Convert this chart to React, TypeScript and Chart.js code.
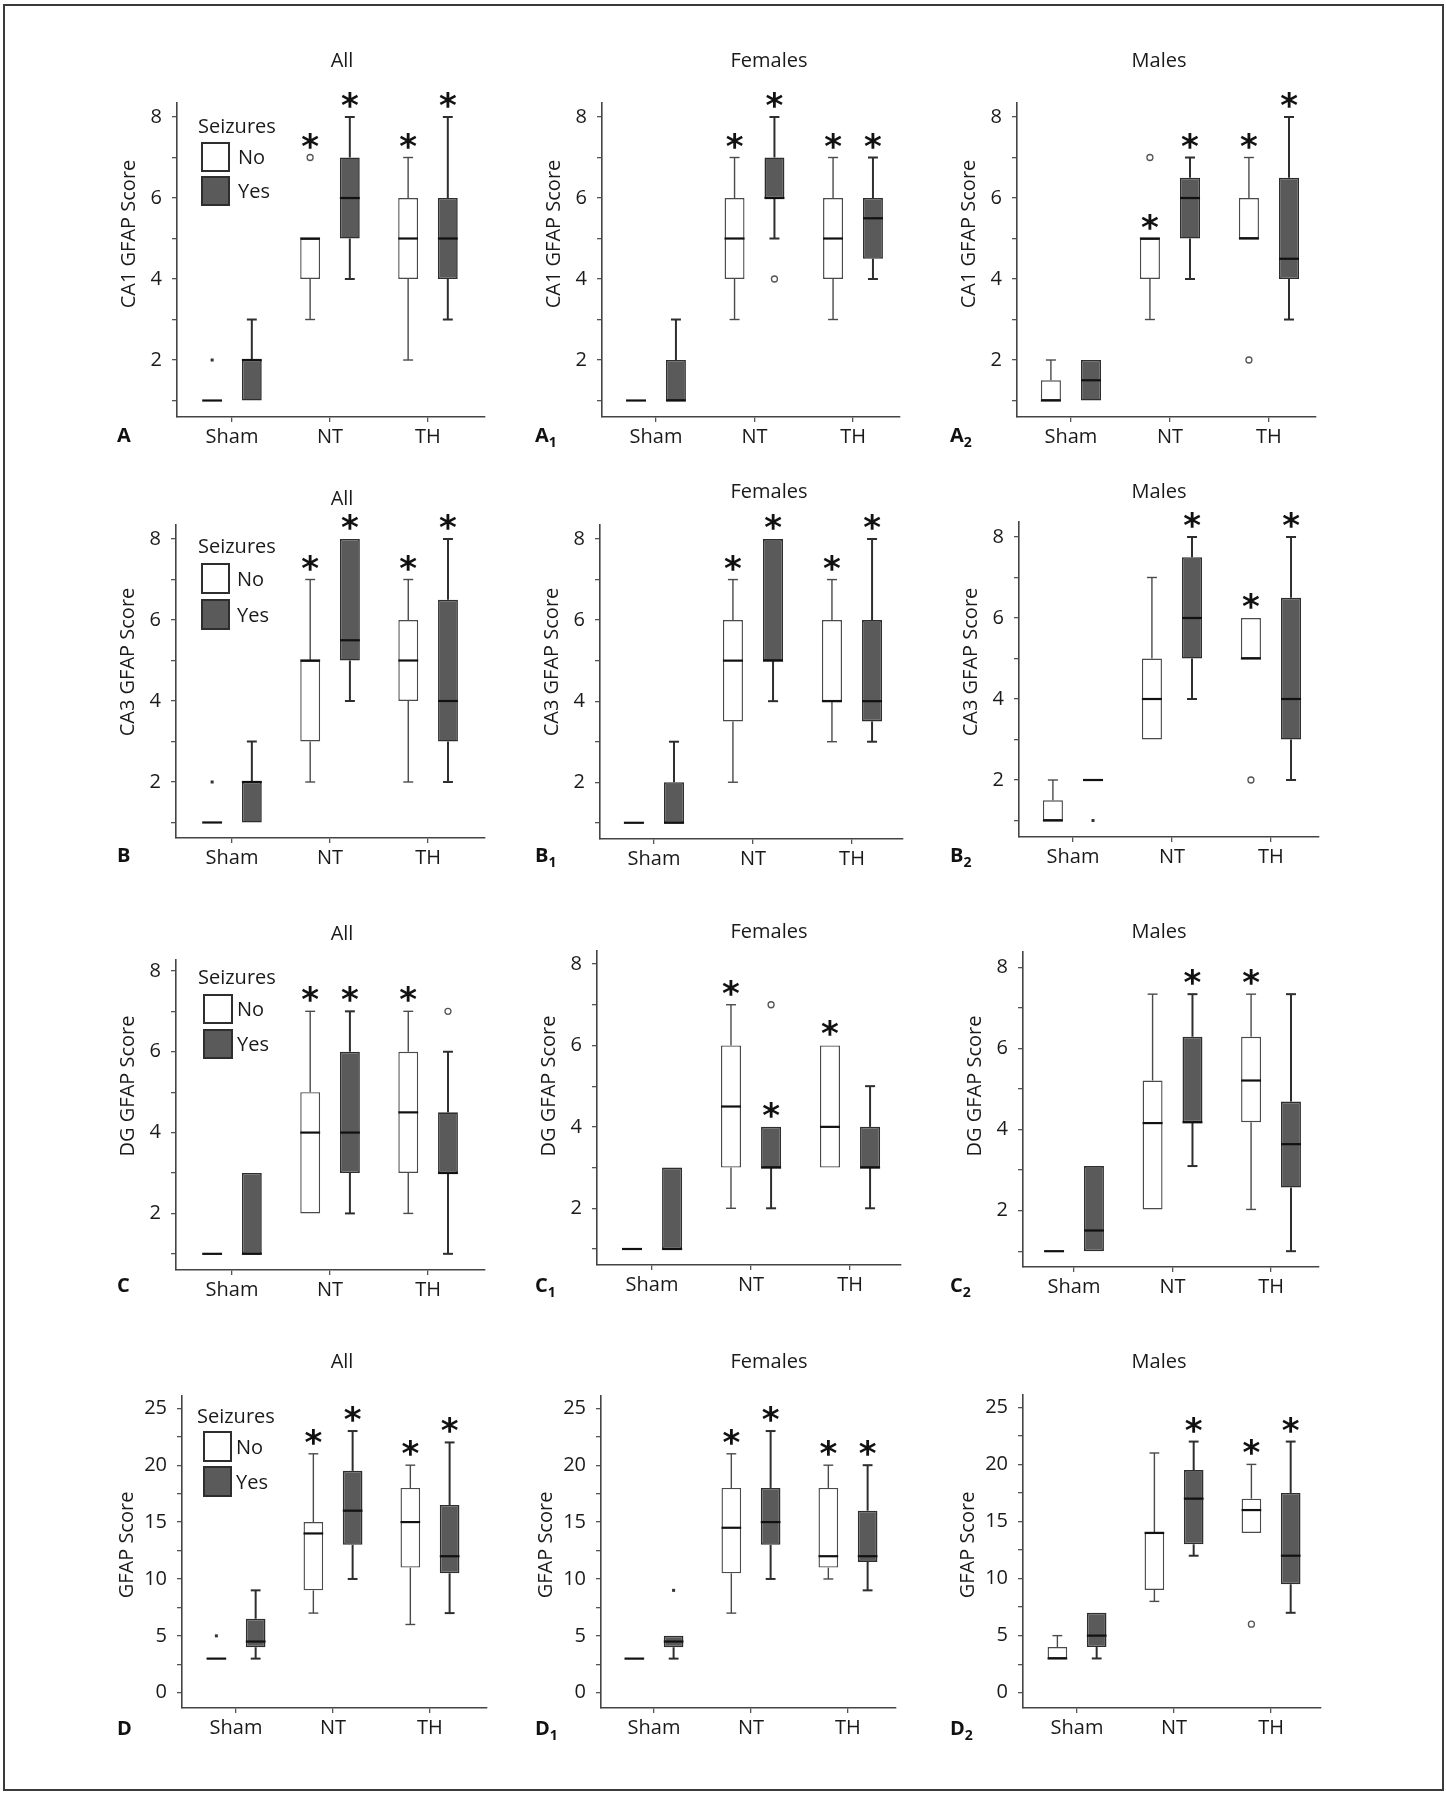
import React, { useEffect, useRef } from "react";
import { Chart, registerables } from "chart.js";
Chart.register(...registerables);

const FONT = "'Open Sans', 'Noto Sans', sans-serif";

// ---------- texts ----------
const groupLabels = ["Sham", "NT", "TH"];
const columnTitles = ["All", "Females", "Males"];
const yAxisTitles = ["CA1 GFAP Score", "CA3 GFAP Score", "DG GFAP Score", "GFAP Score"];
const seriesNames = ["No", "Yes"];
const legendTitle = "Seizures";
const panelLetters = ["A", "B", "C", "D"];
const panelSubs = ["", "1", "2"];

// ---------- data: [lower whisker, Q1, median, Q3, upper whisker] for Sham, NT, TH ----------
const ca1AllNo = [[1, 1, 1, 1, 1], [3, 4, 5, 5, 5], [2, 4, 5, 6, 7]];
const ca1AllYes = [[1, 1, 2, 2, 3], [4, 5, 6, 7, 8], [3, 4, 5, 6, 8]];
const ca1FemNo = [[1, 1, 1, 1, 1], [3, 4, 5, 6, 7], [3, 4, 5, 6, 7]];
const ca1FemYes = [[1, 1, 1, 2, 3], [5, 6, 6, 7, 8], [4, 4.5, 5.5, 6, 7]];
const ca1MalNo = [[1, 1, 1, 1.5, 2], [3, 4, 5, 5, 5], [5, 5, 5, 6, 7]];
const ca1MalYes = [[1, 1, 1.5, 2, 2], [4, 5, 6, 6.5, 7], [3, 4, 4.5, 6.5, 8]];

const ca3AllNo = [[1, 1, 1, 1, 1], [2, 3, 5, 5, 7], [2, 4, 5, 6, 7]];
const ca3AllYes = [[1, 1, 2, 2, 3], [4, 5, 5.5, 8, 8], [2, 3, 4, 6.5, 8]];
const ca3FemNo = [[1, 1, 1, 1, 1], [2, 3.5, 5, 6, 7], [3, 4, 4, 6, 7]];
const ca3FemYes = [[1, 1, 1, 2, 3], [4, 5, 5, 8, 8], [3, 3.5, 4, 6, 8]];
const ca3MalNo = [[1, 1, 1, 1.5, 2], [3, 3, 4, 5, 7], [5, 5, 5, 6, 6]];
const ca3MalYes = [[2, 2, 2, 2, 2], [4, 5, 6, 7.5, 8], [2, 3, 4, 6.5, 8]];

const dgAllNo = [[1, 1, 1, 1, 1], [2, 2, 4, 5, 7], [2, 3, 4.5, 6, 7]];
const dgAllYes = [[1, 1, 1, 3, 3], [2, 3, 4, 6, 7], [1, 3, 3, 4.5, 6]];
const dgFemNo = [[1, 1, 1, 1, 1], [2, 3, 4.5, 6, 7], [3, 3, 4, 6, 6]];
const dgFemYes = [[1, 1, 1, 3, 3], [2, 3, 3, 4, 4], [2, 3, 3, 4, 5]];
const dgMalNo = [[1, 1, 1, 1, 1], [2.03, 2.03, 4.16, 5.21, 7.34], [2.03, 4.18, 5.21, 6.29, 7.34]];
const dgMalYes = [[1, 1, 1.51, 3.1, 3.1], [3.1, 4.18, 4.18, 6.29, 7.34], [1, 2.57, 3.64, 4.69, 7.34]];

const totAllNo = [[3, 3, 3, 3, 3], [7, 9, 14, 15, 21], [6, 11, 15, 18, 20]];
const totAllYes = [[3, 4, 4.5, 6.5, 9], [10, 13, 16, 19.5, 23], [7, 10.5, 12, 16.5, 22]];
const totFemNo = [[3, 3, 3, 3, 3], [7, 10.5, 14.5, 18, 21], [10, 11, 12, 18, 20]];
const totFemYes = [[3, 4, 4.5, 5, 5], [10, 13, 15, 18, 23], [9, 11.5, 12, 16, 20]];
const totMalNo = [[3, 3, 3, 4, 5], [8, 9, 14, 14, 21], [14, 14, 16, 17, 20]];
const totMalYes = [[3, 4, 5, 7, 7], [12, 13, 17, 19.5, 22], [7, 9.5, 12, 17.5, 22]];

// outliers: [value, kind] per group ("ring" = open circle, "dot" = small filled mark)
const noOutliers: [number, string][][] = [[], [], []];
const ca1AllNoOut: [number, string][][] = [[[2, "dot"]], [[7, "ring"]], []];
const ca1FemYesOut: [number, string][][] = [[], [[4, "ring"]], []];
const ca1MalNoOut: [number, string][][] = [[], [[7, "ring"]], [[2, "ring"]]];
const ca3AllNoOut: [number, string][][] = [[[2, "dot"]], [], []];
const ca3MalNoOut: [number, string][][] = [[], [], [[2, "ring"]]];
const ca3MalYesOut: [number, string][][] = [[[1, "dot"]], [], []];
const dgAllYesOut: [number, string][][] = [[], [], [[7, "ring"]]];
const dgFemYesOut: [number, string][][] = [[], [[7, "ring"]], []];
const totAllNoOut: [number, string][][] = [[[5, "dot"]], [], []];
const totFemYesOut: [number, string][][] = [[[9, "dot"]], [], []];
const totMalNoOut: [number, string][][] = [[], [], [[6, "ring"]]];

// significance asterisks: the value they sit above (null = none)
const ca1AllNoStar = [null, 7, 7];
const ca1AllYesStar = [null, 8, 8];
const ca1FemNoStar = [null, 7, 7];
const ca1FemYesStar = [null, 8, 7];
const ca1MalNoStar = [null, 5, 7];
const ca1MalYesStar = [null, 7, 8];
const ca3AllNoStar = [null, 7, 7];
const ca3AllYesStar = [null, 8, 8];
const ca3FemNoStar = [null, 7, 7];
const ca3FemYesStar = [null, 8, 8];
const ca3MalNoStar = [null, null, 6];
const ca3MalYesStar = [null, 8, 8];
const dgAllNoStar = [null, 7, 7];
const dgAllYesStar = [null, 7, null];
const dgFemNoStar = [null, 7, 6];
const dgFemYesStar = [null, 4, null];
const dgMalNoStar = [null, null, 7.34];
const dgMalYesStar = [null, 7.34, null];
const totAllNoStar = [null, 21, 20];
const totAllYesStar = [null, 23, 22];
const totFemNoStar = [null, 21, 20];
const totFemYesStar = [null, 23, 20];
const totMalNoStar = [null, null, 20];
const totMalYesStar = [null, 22, 22];

type Series = number[][];
interface PanelData {
  no: Series; yes: Series;
  noOut: [number, string][][]; yesOut: [number, string][][];
  noStar: (number | null)[]; yesStar: (number | null)[];
}

const panelData: PanelData[] = [
  { no: ca1AllNo, yes: ca1AllYes, noOut: ca1AllNoOut, yesOut: noOutliers, noStar: ca1AllNoStar, yesStar: ca1AllYesStar },
  { no: ca1FemNo, yes: ca1FemYes, noOut: noOutliers, yesOut: ca1FemYesOut, noStar: ca1FemNoStar, yesStar: ca1FemYesStar },
  { no: ca1MalNo, yes: ca1MalYes, noOut: ca1MalNoOut, yesOut: noOutliers, noStar: ca1MalNoStar, yesStar: ca1MalYesStar },
  { no: ca3AllNo, yes: ca3AllYes, noOut: ca3AllNoOut, yesOut: noOutliers, noStar: ca3AllNoStar, yesStar: ca3AllYesStar },
  { no: ca3FemNo, yes: ca3FemYes, noOut: noOutliers, yesOut: noOutliers, noStar: ca3FemNoStar, yesStar: ca3FemYesStar },
  { no: ca3MalNo, yes: ca3MalYes, noOut: ca3MalNoOut, yesOut: ca3MalYesOut, noStar: ca3MalNoStar, yesStar: ca3MalYesStar },
  { no: dgAllNo, yes: dgAllYes, noOut: noOutliers, yesOut: dgAllYesOut, noStar: dgAllNoStar, yesStar: dgAllYesStar },
  { no: dgFemNo, yes: dgFemYes, noOut: noOutliers, yesOut: dgFemYesOut, noStar: dgFemNoStar, yesStar: dgFemYesStar },
  { no: dgMalNo, yes: dgMalYes, noOut: noOutliers, yesOut: noOutliers, noStar: dgMalNoStar, yesStar: dgMalYesStar },
  { no: totAllNo, yes: totAllYes, noOut: totAllNoOut, yesOut: noOutliers, noStar: totAllNoStar, yesStar: totAllYesStar },
  { no: totFemNo, yes: totFemYes, noOut: noOutliers, yesOut: totFemYesOut, noStar: totFemNoStar, yesStar: totFemYesStar },
  { no: totMalNo, yes: totMalYes, noOut: totMalNoOut, yesOut: noOutliers, noStar: totMalNoStar, yesStar: totMalYesStar },
];

// ---------- layout (page pixels) ----------
interface Frame { axL: number; axT: number; axR: number; axB: number; xMin: number; xMax: number; yMin: number; yMax: number; }
const frames: Frame[] = [
  { axL: 177, axT: 103, axR: 485, axB: 417, xMin: 0.439, xMax: 3.582, yMin: 0.593, yMax: 8.346 },
  { axL: 602, axT: 103, axR: 900, axB: 417, xMin: 0.452, xMax: 3.477, yMin: 0.593, yMax: 8.346 },
  { axL: 1017, axT: 103, axR: 1316, axB: 417, xMin: 0.455, xMax: 3.475, yMin: 0.593, yMax: 8.346 },
  { axL: 176, axT: 525, axR: 485, axB: 838, xMin: 0.429, xMax: 3.58, yMin: 0.617, yMax: 8.346 },
  { axL: 600, axT: 525, axR: 903, axB: 839, xMin: 0.455, xMax: 3.515, yMin: 0.6, yMax: 8.346 },
  { axL: 1019, axT: 522, axR: 1319, axB: 837, xMin: 0.455, xMax: 3.485, yMin: 0.593, yMax: 8.37 },
  { axL: 176, axT: 960, axR: 485, axB: 1270, xMin: 0.429, xMax: 3.58, yMin: 0.6, yMax: 8.27 },
  { axL: 597, axT: 951, axR: 901, axB: 1265, xMin: 0.444, xMax: 3.515, yMin: 0.607, yMax: 8.32 },
  { axL: 1023, axT: 952, axR: 1319, axB: 1267, xMin: 0.482, xMax: 3.487, yMin: 0.61, yMax: 8.38 },
  { axL: 182, axT: 1396, axR: 487, axB: 1708, xMin: 0.443, xMax: 3.588, yMin: -1.34, yMax: 26.08 },
  { axL: 601, axT: 1396, axR: 896, axB: 1708, xMin: 0.454, xMax: 3.495, yMin: -1.34, yMax: 26.08 },
  { axL: 1023, axT: 1395, axR: 1321, axB: 1708, xMin: 0.443, xMax: 3.515, yMin: -1.34, yMax: 26.08 },
];
const titleXs = [342, 769, 1159];
const titleYs = [[60, 60, 60], [498, 491, 491], [933, 931, 931], [1361, 1361, 1361]];
const yTitleYs = [234, 662, 1086, 1545];
const yTitleDx = [-49, -49, -49, -56];
const letterXs = [117, 535, 950];
const letterYs = [436, 856, 1286, 1729];
const legendPos = [
  { sx: 198, sy: 126, bx: 202, bw: 27, bh: 28, noT: 143, yesT: 177, lx: 238 },
  { sx: 198, sy: 546, bx: 202, bw: 27, bh: 29, noT: 564, yesT: 600, lx: 237 },
  { sx: 198, sy: 977, bx: 204, bw: 28, bh: 28, noT: 995, yesT: 1030, lx: 237 },
  { sx: 197, sy: 1416, bx: 204, bw: 27, bh: 29, noT: 1432, yesT: 1467, lx: 236 },
];

const PL = 130, PT = 95, PR = 24, PB = 60, YW = 65, XH = 40;
const TEXT = "#1a1a1a";
const DARK_FILL = "#5a5a5a";
const DARK_EDGE = "#2e2e2e";
const LIGHT_EDGE = "#4a4a4a";

function capText(ctx: CanvasRenderingContext2D, text: string, x: number, cy: number, size: number, align: CanvasTextAlign) {
  ctx.textAlign = align;
  ctx.textBaseline = "alphabetic";
  ctx.fillText(text, x, cy + size * 0.357);
}

function Panel({ index }: { index: number }) {
  const ref = useRef<HTMLCanvasElement>(null);
  const row = Math.floor(index / 3);
  const col = index % 3;
  const f = frames[index];
  const left = f.axL - PL;
  const top = f.axT - PT;
  const width = f.axR - f.axL + PL + PR;
  const height = f.axB - f.axT + PT + PB;

  useEffect(() => {
    const d = panelData[index];
    const isTotal = row === 3;
    const step = isTotal ? 2.5 : 1;
    const labelStep = isTotal ? 5 : 2;

    const extras = {
      id: "boxExtras" + index,
      afterDatasetsDraw(chart: any) {
        const ctx: CanvasRenderingContext2D = chart.ctx;
        const ys = chart.scales.y;
        const py = (v: number) => ys.getPixelForValue(v);
        const all = [
          { s: d.no, out: d.noOut, star: d.noStar },
          { s: d.yes, out: d.yesOut, star: d.yesStar },
        ];
        all.forEach((ser, di) => {
          const meta = chart.getDatasetMeta(di);
          meta.data.forEach((el: any, j: number) => {
            const s = ser.s[j];
            const cx = el.x;
            const w = el.width;
            const dark = di === 1;
            ctx.save();
            ctx.lineCap = "butt";
            ctx.strokeStyle = dark ? DARK_EDGE : LIGHT_EDGE;
            ctx.lineWidth = dark ? 2 : 1.4;
            const line = (x1: number, y1: number, x2: number, y2: number) => {
              ctx.beginPath(); ctx.moveTo(x1, y1); ctx.lineTo(x2, y2); ctx.stroke();
            };
            const cap = w * 0.25;
            if (s[4] > s[3]) {
              line(cx, py(s[3]), cx, py(s[4]));
              line(cx - cap, py(s[4]), cx + cap, py(s[4]));
            }
            if (s[0] < s[1]) {
              line(cx, py(s[1]), cx, py(s[0]));
              line(cx - cap, py(s[0]), cx + cap, py(s[0]));
            }
            ctx.strokeStyle = "#111";
            ctx.lineWidth = 2.2;
            line(cx - w / 2, py(s[2]), cx + w / 2, py(s[2]));
            ser.out[j].forEach(([v, kind]) => {
              if (kind === "ring") {
                ctx.beginPath();
                ctx.arc(cx, py(v), 3, 0, Math.PI * 2);
                ctx.fillStyle = "#fff"; ctx.fill();
                ctx.strokeStyle = "#555"; ctx.lineWidth = 1.3; ctx.stroke();
              } else {
                ctx.fillStyle = "#333";
                ctx.fillRect(cx - 1.5, py(v) - 1.5, 3, 3);
              }
            });
            const st = ser.star[j];
            if (st !== null && st !== undefined) {
              const cy = py(st) - 17;
              ctx.fillStyle = "#111";
              ctx.font = `bold 34px 'DejaVu Sans', sans-serif`;
              ctx.textAlign = "center";
              ctx.textBaseline = "alphabetic";
              const m = ctx.measureText("*");
              const asc = m.actualBoundingBoxAscent, desc = m.actualBoundingBoxDescent;
              ctx.fillText("*", cx, cy + (asc - desc) / 2);
            }
            ctx.restore();
          });
        });
      },
      afterDraw(chart: any) {
        const ctx: CanvasRenderingContext2D = chart.ctx;
        ctx.save();
        ctx.fillStyle = TEXT;
        ctx.font = `20px ${FONT}`;
        // panel title
        capText(ctx, columnTitles[col], titleXs[col] - left, titleYs[row][col] - top, 20, "center");
        // y axis title
        ctx.save();
        ctx.translate(f.axL + yTitleDx[row] - left, yTitleYs[row] - top);
        ctx.rotate(-Math.PI / 2);
        capText(ctx, yAxisTitles[row], 0, 0, 20, "center");
        ctx.restore();
        // legend
        if (col === 0) {
          const L = legendPos[row];
          capText(ctx, legendTitle, L.sx - left, L.sy - top, 20, "left");
          const boxes = [
            { t: L.noT, fill: "#ffffff", name: seriesNames[0] },
            { t: L.yesT, fill: DARK_FILL, name: seriesNames[1] },
          ];
          boxes.forEach((b) => {
            ctx.fillStyle = b.fill;
            ctx.fillRect(L.bx - left, b.t - top, L.bw, L.bh);
            ctx.strokeStyle = DARK_EDGE;
            ctx.lineWidth = 2;
            ctx.strokeRect(L.bx - left, b.t - top, L.bw, L.bh);
            ctx.fillStyle = TEXT;
            capText(ctx, b.name, L.lx - left, b.t + L.bh / 2 - top, 20, "left");
          });
        }
        ctx.restore();
      },
    };

    const mk = (s: Series) => s.map((v, i) => ({ x: i + 1, y: [v[1], v[3]] }));

    const chart = new Chart(ref.current as HTMLCanvasElement, {
      type: "bar",
      data: {
        datasets: [
          {
            label: seriesNames[0], data: mk(d.no) as any,
            backgroundColor: "#ffffff", borderColor: LIGHT_EDGE, borderWidth: 1.4, borderSkipped: false,
            categoryPercentage: 0.81, barPercentage: 0.5,
          },
          {
            label: seriesNames[1], data: mk(d.yes) as any,
            backgroundColor: DARK_FILL, borderColor: DARK_EDGE, borderWidth: 1.6, borderSkipped: false,
            categoryPercentage: 0.81, barPercentage: 0.5,
          },
        ],
      },
      options: {
        animation: false,
        responsive: false,
        events: [],
        layout: { padding: { left: PL - YW, top: PT, right: PR, bottom: PB - XH } },
        plugins: { legend: { display: false }, tooltip: { enabled: false }, title: { display: false } },
        scales: {
          x: {
            type: "linear",
            min: f.xMin, max: f.xMax,
            offset: false,
            afterBuildTicks: (sc: any) => { sc.ticks = groupLabels.map((_, i) => ({ value: i + 1 })); },
            afterFit: (sc: any) => { sc.height = XH; },
            ticks: {
              autoSkip: false, maxRotation: 0, padding: 3,
              color: TEXT, font: { family: FONT, size: 20 },
              callback: (v: any) => groupLabels[Math.round(Number(v)) - 1] ?? "",
            },
            grid: { display: true, drawOnChartArea: false, drawTicks: true, tickLength: 5, color: "#555", lineWidth: 1.3, offset: false },
            border: { display: true, color: "#444", width: 1.6 },
          },
          y: {
            type: "linear",
            min: f.yMin, max: f.yMax,
            afterBuildTicks: (sc: any) => {
              sc.ticks = sc.ticks.filter((t: any) => Math.abs(t.value / step - Math.round(t.value / step)) < 1e-6);
            },
            afterFit: (sc: any) => { sc.width = YW; },
            ticks: {
              stepSize: step, includeBounds: false, autoSkip: false, padding: 10,
              color: TEXT, font: { family: FONT, size: 20 },
              callback: (v: any) => {
                const n = Number(v);
                return Math.abs(n / labelStep - Math.round(n / labelStep)) < 1e-6 ? String(n) : "";
              },
            },
            grid: { display: true, drawOnChartArea: false, drawTicks: true, tickLength: 5, color: "#555", lineWidth: 1.3 },
            border: { display: true, color: "#444", width: 1.6 },
          },
        },
      },
      plugins: [extras as any],
    } as any);
    return () => chart.destroy();
  }, []);

  return (
    <canvas
      ref={ref}
      width={width}
      height={height}
      style={{ position: "absolute", left, top, width, height }}
    />
  );
}

export default function App() {
  return (
    <div style={{ position: "absolute", left: 0, top: 0, width: 1446, height: 1800, background: "#fff", overflow: "hidden" }}>
      <div
        style={{
          position: "absolute", left: 3, top: 4, width: 1441, height: 1787,
          border: "2px solid #3a3a3a", boxSizing: "border-box",
        }}
      />
      {panelData.map((_, i) => <Panel key={i} index={i} />)}
      {letterYs.map((ly, r) =>
        letterXs.map((lx, c) => (
          <div
            key={r + "-" + c}
            style={{
              position: "absolute", left: lx, top: ly - 15, height: 28, lineHeight: "28px",
              font: `bold 20px ${FONT}`, color: "#111", whiteSpace: "nowrap",
            }}
          >
            {panelLetters[r]}
            {panelSubs[c] && <span style={{ fontSize: 14, position: "relative", top: 5 }}>{panelSubs[c]}</span>}
          </div>
        ))
      )}
    </div>
  );
}
